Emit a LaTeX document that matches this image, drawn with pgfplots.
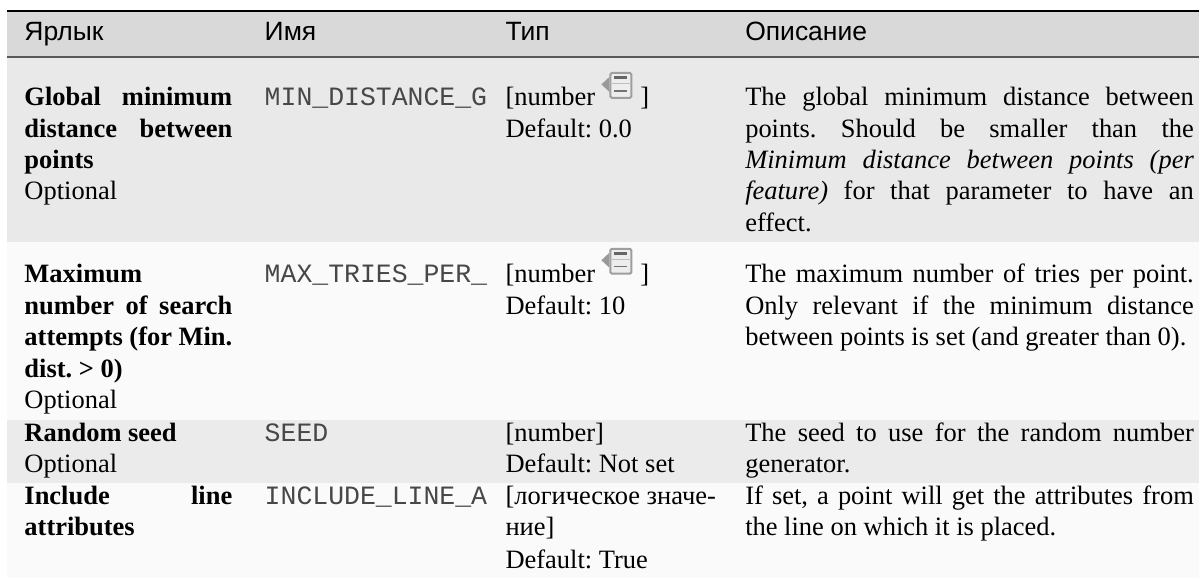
\documentclass[border=0pt]{standalone}
\usepackage{pgfplots}
\pgfplotsset{compat=1.18}
\usepackage{fontspec}
\setmainfont{Liberation Serif}
\setsansfont{Liberation Sans}
\setmonofont{Liberation Mono}
\definecolor{hdr}{HTML}{D9D9D9}
\definecolor{rowa}{HTML}{E9E9E9}
\definecolor{rowb}{HTML}{FAFAFA}
\definecolor{rowc}{HTML}{EBEBEB}
\newcommand{\FS}{\fontsize{26.5}{31.5}\selectfont\frenchspacing}
\newcommand{\T}[3]{\node[anchor=base west,inner sep=0pt,outer sep=0pt,font=\FS] at (axis cs:#1,#2) {#3};}
\newcommand{\J}[4]{\node[anchor=base west,inner sep=0pt,outer sep=0pt,font=\FS] at (axis cs:#1,#2) {\hbox to #3pt{#4}};}
\newcommand{\M}[3]{\node[anchor=base west,inner sep=0pt,outer sep=0pt,font=\fontsize{26.5}{31.5}\selectfont\ttfamily,text=black!72] at (axis cs:#1,#2) {#3};}
\newcommand{\Icon}[1]{%
  \fill[gray!80] (axis cs:602,#1+12.5) -- (axis cs:610,#1+5) -- (axis cs:610,#1+20) -- cycle;
  \draw[black!38,line width=2pt,fill=white!93!black,rounded corners=1.5pt] (axis cs:611,#1+1) rectangle (axis cs:632,#1+26);
  \draw[black!25,line width=1pt] (axis cs:611,#1+12) -- (axis cs:632,#1+12);
  \draw[black!60,line width=3pt] (axis cs:615,#1+6) -- (axis cs:628,#1+6);
  \draw[black!55,line width=1.4pt] (axis cs:615,#1+19) -- (axis cs:628,#1+19);
}
\begin{document}
\begin{tikzpicture}
\begin{axis}[
  scale only axis, width=1200pt, height=579pt,
  xmin=0, xmax=1200, ymin=0, ymax=579, y dir=reverse,
  hide axis, clip=false]
\addplot[fill=white,draw=none] coordinates {(0,0) (1200,0) (1200,579) (0,579)} --cycle;
\addplot[fill=hdr,draw=none] coordinates {(7,11) (1200,11) (1200,57) (7,57)} --cycle;
\addplot[fill=rowa,draw=none] coordinates {(7,57) (1200,57) (1200,242) (7,242)} --cycle;
\addplot[fill=rowb,draw=none] coordinates {(7,242) (1200,242) (1200,420) (7,420)} --cycle;
\addplot[fill=rowc,draw=none] coordinates {(7,420) (1200,420) (1200,483) (7,483)} --cycle;
\addplot[fill=rowb,draw=none] coordinates {(7,483) (1200,483) (1200,579) (7,579)} --cycle;
\addplot[black,line width=2.4pt] coordinates {(7,11) (1200,11)};
\addplot[black!65,line width=1.2pt] coordinates {(7,57) (1200,57)};
% header
\T{24.5}{41}{\sffamily Ярлык}
\T{265}{41}{\sffamily Имя}
\T{506}{41}{\sffamily Тип}
\T{746}{41}{\sffamily Описание}
% row 1
\J{24.5}{106}{208}{\bfseries Global minimum}
\J{24.5}{137.5}{208}{\bfseries distance between}
\T{24.5}{169}{\bfseries points}
\T{24.5}{200}{Optional}
\M{265}{106}{MIN\_DISTANCE\_G}
\T{506}{106}{[number}
\Icon{72}
\T{641}{106}{]}
\T{506}{137.5}{Default: 0.0}
\J{746}{106}{449}{The global minimum distance between}
\J{746}{137.5}{449}{points. Should be smaller than the}
\J{746}{169}{449}{\itshape Minimum distance between points (per}
\J{746}{200}{449}{\textit{feature)} for that parameter to have an}
\T{746}{232}{effect.}
% row 2
\T{24.5}{283}{\bfseries Maximum}
\J{24.5}{314.5}{208}{\bfseries number of search}
\J{24.5}{346}{208}{\bfseries attempts (for Min.}
\T{24.5}{377.5}{\bfseries dist. > 0)}
\T{24.5}{409}{Optional}
\M{265}{283}{MAX\_TRIES\_PER\_}
\T{506}{283}{[number}
\Icon{248}
\T{641}{283}{]}
\T{506}{314.5}{Default: 10}
\J{746}{283}{449}{The maximum number of tries per point.}
\J{746}{314.5}{449}{Only relevant if the minimum distance}
\T{746}{346}{between points is set (and greater than 0).}
% row 3
\T{24.5}{441.5}{\bfseries Random seed}
\T{24.5}{473}{Optional}
\M{265}{441.5}{SEED}
\T{506}{441.5}{[number]}
\T{506}{473}{Default: Not set}
\J{746}{441.5}{449}{The seed to use for the random number}
\T{746}{473}{generator.}
% row 4
\J{24.5}{505}{208}{\bfseries Include \hfill line}
\T{24.5}{536.5}{\bfseries attributes}
\M{265}{505}{INCLUDE\_LINE\_A}
\T{506}{505}{[логическое значе-}
\T{506}{536.5}{ние]}
\T{506}{569}{Default: True}
\J{746}{505}{449}{If set, a point will get the attributes from}
\T{746}{536.5}{the line on which it is placed.}
\end{axis}
\end{tikzpicture}
\end{document}
